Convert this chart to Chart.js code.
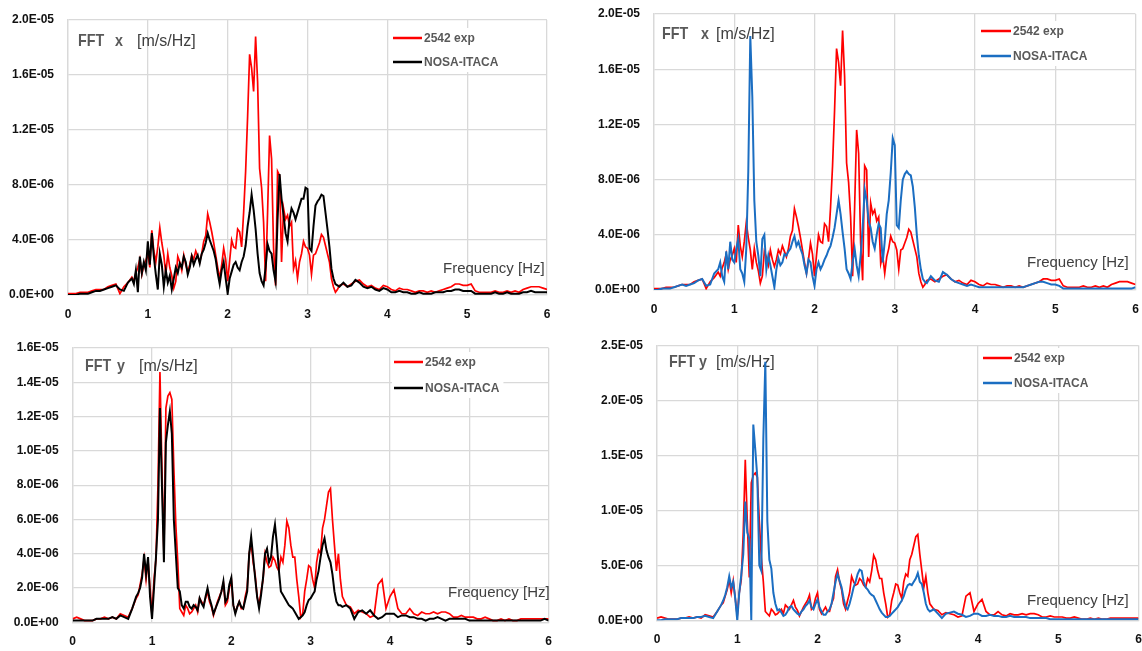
<!DOCTYPE html>
<html>
<head>
<meta charset="utf-8">
<script src="https://cdn.jsdelivr.net/npm/chart.js@4.4.1/dist/chart.umd.min.js"></script>
<style>
  html, body { margin: 0; padding: 0; background: #fff; }
  #wrap { position: relative; width: 1142px; height: 651px; }
  #wrap canvas { position: absolute; }
</style>
</head>
<body>
<div id="wrap">
  <canvas id="fftXBlack" width="571" height="325" style="left:0;top:0"></canvas>
  <canvas id="fftXBlue" width="571" height="325" style="left:571px;top:0"></canvas>
  <canvas id="fftYBlack" width="571" height="326" style="left:0;top:325px"></canvas>
  <canvas id="fftYBlue" width="571" height="326" style="left:571px;top:325px"></canvas>
</div>
<script>
// Frequency bins [Hz]: finer spacing across the resonance band
const FREQ = [
  0, 0.05, 0.1, 0.15, 0.2, 0.25, 0.3, 0.35, 0.4, 0.45, 0.5, 0.55, 0.6, 0.65, 0.7, 0.75,
  0.8, 0.825, 0.85, 0.875, 0.9, 0.925, 0.95, 0.975, 1, 1.025,
  1.05, 1.075, 1.1, 1.125, 1.15, 1.175, 1.2, 1.225, 1.25, 1.275,
  1.3, 1.325, 1.35, 1.375, 1.4, 1.425, 1.45, 1.475, 1.5, 1.525,
  1.55, 1.575, 1.6, 1.625, 1.65, 1.675, 1.7, 1.725, 1.75, 1.775,
  1.8, 1.825, 1.85, 1.875, 1.9, 1.925, 1.95, 1.975, 2, 2.025,
  2.05, 2.075, 2.1, 2.125, 2.15, 2.175, 2.2, 2.225, 2.25, 2.275,
  2.3, 2.325, 2.35, 2.375, 2.4, 2.425, 2.45, 2.475, 2.5, 2.525,
  2.55, 2.575, 2.6, 2.625, 2.65, 2.675, 2.7, 2.725, 2.75, 2.775,
  2.8, 2.825, 2.85, 2.875, 2.9, 2.925, 2.95, 2.975, 3, 3.025,
  3.05, 3.075, 3.1, 3.125, 3.15, 3.175, 3.2, 3.225, 3.25, 3.275,
  3.3, 3.325, 3.35, 3.375, 3.4,
  3.45,
  3.5, 3.55, 3.6, 3.65, 3.7, 3.75, 3.8, 3.85, 3.9, 3.95,
  4, 4.05, 4.1, 4.15, 4.2, 4.25, 4.3, 4.35, 4.4, 4.45,
  4.5, 4.55, 4.6, 4.65, 4.7, 4.75, 4.8, 4.85, 4.9, 4.95,
  5, 5.05, 5.1, 5.15, 5.2, 5.25, 5.3, 5.35, 5.4, 5.45,
  5.5, 5.55, 5.6, 5.65, 5.7, 5.75, 5.8, 5.85, 5.9, 5.95,
  6
];

// FFT amplitudes, in 1E-06 m/s/Hz
const EXP_X = [
  0.1, 0.1, 0.1, 0.2, 0.2, 0.2, 0.3, 0.4, 0.4, 0.4, 0.6, 0.7, 0.8, 0.1, 0.6, 0.9,
  1.3, 1.0, 1.6, 2.0, 2.6, 1.5, 2.2, 2.5, 3.0, 2.0,
  4.7, 3.2, 2.4, 3.5, 4.9, 3.8, 2.9, 1.5, 3.0, 2.0,
  1.4, 0.5, 1.0, 2.8, 2.4, 1.8, 2.9, 2.2, 1.7, 2.2,
  2.9, 2.6, 3.2, 2.8, 2.4, 3.0, 3.9, 4.3, 5.9, 5.3,
  4.6, 3.8, 2.9, 2.0, 1.2, 2.2, 3.4, 2.6, 1.0, 2.5,
  4.0, 3.5, 3.4, 4.8, 4.6, 3.5, 6.0, 9.0, 13.0, 17.5,
  16.5, 14.8, 18.8, 15.5, 9.2, 7.8, 5.3, 1.0, 6.0, 11.6,
  9.9, 3.4, 0.7, 9.0, 8.7, 2.4, 6.3, 5.5, 5.8, 5.0,
  5.3, 1.9, 2.5, 1.2, 2.4, 3.0, 3.9, 3.5, 3.4, 2.9,
  1.5, 2.9, 3.0, 3.4, 3.8, 4.4, 4.2, 3.6, 3.0, 2.4,
  1.2, 0.6, 0.2, 0.4, 0.7,
  0.8,
  0.6, 0.8, 1.0, 1.1, 0.8, 0.6, 0.7, 0.5, 0.4, 0.7,
  0.6, 0.4, 0.3, 0.5, 0.4, 0.4, 0.3, 0.2, 0.3, 0.3,
  0.2, 0.3, 0.2, 0.3, 0.4, 0.5, 0.6, 0.8, 0.8, 0.7,
  0.7, 0.8, 0.3, 0.2, 0.2, 0.2, 0.2, 0.3, 0.2, 0.2,
  0.3, 0.2, 0.3, 0.2, 0.4, 0.5, 0.6, 0.6, 0.6, 0.5,
  0.4
];
const NOSA_X_BLACK = [
  0.0, 0.0, 0.0, 0.1, 0.1, 0.1, 0.2, 0.3, 0.3, 0.4, 0.5, 0.6, 0.7, 0.4, 0.3, 0.9,
  1.2, 0.8, 1.8, 0.2, 2.8, 1.6, 2.4, 1.8, 3.9, 2.2,
  4.5, 2.8, 1.5, 0.4, 3.0, 2.2, 0.6, 1.8, 0.9, 1.4,
  0.4, 1.2, 2.0, 1.6, 2.3, 2.0, 2.8, 2.4, 1.5, 2.0,
  2.8, 2.2, 2.6, 2.9, 2.3, 3.0, 3.3, 3.8, 4.5, 4.0,
  3.6, 3.2, 2.6, 1.6, 0.8, 1.8, 2.4, 1.2, 0.1, 1.2,
  1.7, 2.2, 2.4, 2.0, 1.8, 2.4, 2.8, 3.6, 5.0, 6.0,
  7.3, 6.2, 4.8, 3.0, 1.6, 1.0, 0.7, 2.0, 3.7, 3.2,
  3.0, 1.8, 1.0, 5.5, 8.8, 7.0, 5.8, 4.5, 3.9, 5.5,
  6.3, 6.0, 5.5, 6.0, 6.5, 7.0, 7.0, 7.8, 7.7, 3.4,
  3.2, 5.0, 6.5, 6.8, 7.0, 7.3, 7.2, 6.0, 4.8, 3.5,
  1.9, 1.2, 0.8, 0.7, 0.6,
  0.9,
  0.6, 0.7, 1.1, 0.9, 0.6, 0.5, 0.6, 0.4, 0.3, 0.5,
  0.4, 0.2, 0.2, 0.3, 0.2, 0.2, 0.1, 0.1, 0.2, 0.1,
  0.1, 0.1, 0.2, 0.2, 0.2, 0.3, 0.3, 0.4, 0.4, 0.3,
  0.3, 0.3, 0.1, 0.1, 0.1, 0.1, 0.1, 0.2, 0.1, 0.1,
  0.2, 0.1, 0.1, 0.1, 0.2, 0.2, 0.3, 0.2, 0.2, 0.2,
  0.2
];
const NOSA_X_BLUE = [
  0.0, 0.0, 0.1, 0.1, 0.1, 0.2, 0.3, 0.4, 0.3, 0.4, 0.5, 0.7, 0.8, 0.3, 0.4, 1.2,
  1.5, 2.0, 1.0, 0.6, 2.8, 1.5, 3.5, 2.2, 2.0, 3.0,
  3.7, 1.5, 1.2, 0.6, 3.0, 8.6, 18.4, 14.0, 6.5, 3.5,
  2.5, 1.0, 3.7, 4.0, 1.5, 2.5, 1.8, 1.0, 0.2, 1.5,
  2.3, 1.8, 2.0, 2.6, 2.5, 2.8, 3.0, 3.5, 3.9, 3.2,
  3.5, 3.0, 2.6, 1.8, 1.2, 2.2, 2.0, 1.0, 0.3, 1.5,
  2.0, 1.5, 1.8, 2.2, 2.5, 2.9, 3.2, 3.8, 4.5, 5.5,
  6.5, 5.5, 4.2, 3.0, 1.5, 1.2, 0.8, 2.0, 3.0, 1.8,
  1.0, 2.5, 4.5, 7.3, 6.5, 5.0, 4.5, 3.5, 3.0, 4.0,
  4.8, 4.5, 2.0, 3.5, 5.5, 6.5, 8.5, 11.0, 10.5, 4.7,
  4.5, 6.5, 8.0, 8.4, 8.6, 8.4, 8.3, 7.5, 6.0, 4.0,
  2.5, 1.5, 0.8, 0.6, 0.5,
  1.0,
  0.7, 0.6, 1.3, 1.1, 0.8, 0.6, 0.5, 0.4, 0.3, 0.4,
  0.3, 0.2, 0.2, 0.2, 0.2, 0.2, 0.2, 0.2, 0.2, 0.2,
  0.2, 0.2, 0.2, 0.3, 0.4, 0.5, 0.6, 0.6, 0.5, 0.4,
  0.4, 0.3, 0.1, 0.1, 0.1, 0.1, 0.1, 0.1, 0.1, 0.1,
  0.1, 0.1, 0.1, 0.1, 0.1, 0.1, 0.1, 0.1, 0.1, 0.1,
  0.2
];
const EXP_Y = [
  0.2, 0.3, 0.2, 0.1, 0.1, 0.1, 0.2, 0.2, 0.3, 0.2, 0.3, 0.2, 0.5, 0.4, 0.3, 0.8,
  1.4, 1.6, 2.2, 2.8, 3.7, 2.5, 3.6, 2.0, 0.4, 2.5,
  3.7, 8.0, 14.6, 9.0, 3.9, 12.5, 13.2, 13.4, 13.0, 9.0,
  5.7, 3.5, 0.8, 0.6, 0.4, 1.0, 0.8, 0.5, 0.6, 0.8,
  1.0, 0.6, 1.4, 1.2, 1.0, 1.4, 1.8, 1.2, 0.9, 0.4,
  0.8, 1.2, 1.5, 1.8, 2.3, 1.0, 1.2, 2.0, 2.5, 1.0,
  0.6, 0.9, 1.2, 0.8, 0.8, 1.5, 2.0, 4.0, 4.6, 3.5,
  2.8, 1.5, 1.0, 1.8, 2.5, 4.0, 3.5, 3.2, 3.3, 3.8,
  3.6, 3.2, 3.0, 3.8, 3.5, 4.5, 5.9, 5.5, 4.5, 3.8,
  3.8, 2.5, 1.5, 0.3, 0.5, 1.8, 2.5, 3.3, 3.2, 2.5,
  2.0, 3.5, 4.2, 4.0, 5.5, 6.0, 6.8, 7.6, 7.8, 6.0,
  4.5, 3.0, 4.0, 2.5, 1.5,
  1.0,
  0.9, 0.5, 0.7, 0.6, 0.5, 0.3, 0.4, 2.2, 2.5, 0.8,
  1.5, 1.9, 0.8, 0.5, 0.5, 0.8, 0.5, 0.4, 0.6, 0.5,
  0.5, 0.6, 0.5, 0.6, 0.6, 0.5, 0.3, 0.3, 0.4, 0.3,
  0.3, 0.3, 0.2, 0.2, 0.3, 0.2, 0.1, 0.1, 0.2, 0.1,
  0.2, 0.1, 0.1, 0.2, 0.2, 0.2, 0.2, 0.2, 0.2, 0.2,
  0.2
];
const NOSA_Y_BLACK = [
  0.1, 0.1, 0.1, 0.1, 0.1, 0.1, 0.2, 0.2, 0.2, 0.2, 0.3, 0.2, 0.4, 0.3, 0.2, 0.8,
  1.5, 1.7, 2.0, 2.6, 4.0, 2.8, 3.8, 1.5, 0.2, 2.0,
  3.8, 6.0, 12.5, 8.0, 3.5, 10.5, 11.5, 12.3, 11.0, 6.0,
  4.0, 2.0, 1.8, 1.0, 0.8, 1.2, 1.2, 0.9, 0.8, 1.0,
  0.9, 0.7, 1.4, 1.1, 0.9, 1.5, 2.0, 1.4, 1.0, 0.5,
  0.8, 1.1, 1.4, 1.8, 2.4, 1.2, 1.4, 2.2, 2.6, 1.0,
  0.5, 0.9, 1.2, 0.9, 0.8, 1.3, 1.8, 4.0, 5.0, 3.8,
  2.6, 1.5, 0.8, 1.6, 2.6, 4.0, 4.3, 3.5, 3.8, 5.0,
  5.7, 4.5, 3.0, 1.8, 1.6, 1.4, 1.2, 1.0, 0.9, 0.8,
  0.6, 0.4, 0.2, 0.3, 0.4, 0.6, 1.0, 1.3, 1.4, 1.6,
  1.8, 2.5, 3.0, 3.8, 4.5, 4.9, 4.2, 3.8, 3.5, 2.8,
  1.8, 1.2, 1.0, 1.0, 0.9,
  1.0,
  0.8, 0.2, 0.6, 0.7, 0.5, 0.7, 0.4, 0.2, 0.3, 0.5,
  0.5, 0.5, 0.3, 0.4, 0.4, 0.3, 0.3, 0.2, 0.2, 0.1,
  0.2, 0.2, 0.3, 0.2, 0.1, 0.2, 0.2, 0.2, 0.2, 0.2,
  0.1, 0.1, 0.1, 0.1, 0.1, 0.1, 0.1, 0.1, 0.1, 0.1,
  0.1, 0.1, 0.1, 0.1, 0.1, 0.1, 0.1, 0.1, 0.1, 0.2,
  0.1
];
const NOSA_Y_BLUE = [
  0.0, 0.0, 0.1, 0.1, 0.1, 0.1, 0.2, 0.2, 0.2, 0.2, 0.3, 0.3, 0.4, 0.3, 0.2, 0.8,
  1.4, 1.8, 2.3, 3.0, 4.0, 3.0, 3.5, 2.0, 0.0, 2.5,
  4.1, 6.0, 10.8, 8.0, 7.4, 0.0, 17.8, 15.5, 13.0, 5.0,
  4.5, 16.5, 23.5, 9.0, 5.5, 4.7, 2.5, 1.5, 0.9, 1.0,
  0.7, 0.4, 0.5, 0.8, 1.2, 1.3, 1.0, 0.8, 0.6, 0.5,
  0.8, 1.0, 1.3, 1.5, 1.8, 1.2, 1.0, 1.5, 1.9, 1.2,
  0.8, 0.5, 0.5, 0.8, 1.0, 1.5, 2.5, 3.5, 4.2, 3.6,
  3.0, 2.0, 1.2, 1.0, 1.5, 2.2, 3.0, 3.5, 4.2, 4.6,
  4.5, 3.5, 3.0, 2.8, 2.5, 2.3, 2.2, 1.8, 1.4, 1.0,
  0.7, 0.5, 0.3, 0.3, 0.4, 0.6, 0.8, 1.0, 1.2, 1.5,
  1.8, 2.2, 2.8, 3.2, 3.3, 3.2, 3.5, 3.8, 4.3, 3.5,
  3.3, 2.5, 1.5, 1.0, 0.8,
  1.0,
  0.6, 0.2, 0.6, 0.7, 0.8, 0.6, 0.5, 0.3, 0.4, 0.6,
  0.6, 0.4, 0.4, 0.5, 0.4, 0.4, 0.3, 0.3, 0.4, 0.3,
  0.3, 0.3, 0.3, 0.2, 0.2, 0.2, 0.2, 0.2, 0.1, 0.1,
  0.1, 0.1, 0.1, 0.1, 0.1, 0.1, 0.1, 0.1, 0.1, 0.1,
  0.1, 0.1, 0.1, 0.1, 0.1, 0.1, 0.1, 0.1, 0.1, 0.1,
  0.1
];

const X_TICKS = [0, 1, 2, 3, 4, 5, 6];

const RED = '#ff0000';
const BLACK = '#000000';
const BLUE = '#1b6ec2';
const GRID = '#d9d9d9';
const SANS = '"Liberation Sans", Arial, sans-serif';
const TICK_FONT = { family: SANS, size: 12, weight: 'bold' };
const TITLE_FONT = 'bold 17px ' + SANS;
const TITLE_SQUEEZE = 0.84;   // narrow the bold title glyphs a little
const CAPTION_FONT = '15px ' + SANS;
const UNIT_FONT = '16px ' + SANS;
const LEGEND_FONT = 'bold 12px ' + SANS;

// 4.0E-06 style labels; values are stored in micro units
function fmtSci(v) {
  const [m, e] = (v * 1e-6).toExponential(1).split('e');
  const n = Number(e);
  return m + 'E' + (n < 0 ? '-' : '+') + String(Math.abs(n)).padStart(2, '0');
}

function toPoints(values) {
  return FREQ.map((f, i) => ({ x: f, y: values[i] }));
}

// Title and frequency caption sit under the curves; the legend box sits on top
const panelText = {
  id: 'panelText',
  beforeDatasetsDraw(chart, args, opts) {
    const ctx = chart.ctx;
    for (const t of opts.texts) {
      ctx.save();
      ctx.textBaseline = 'middle';
      ctx.textAlign = 'left';
      ctx.font = t.font;
      ctx.fillStyle = t.color;
      ctx.translate(t.x, t.y);
      ctx.scale(t.squeeze || 1, 1);
      ctx.fillText(t.text, 0, 0);
      ctx.restore();
    }
  },
  afterDraw(chart, args, opts) {
    const ctx = chart.ctx;
    const lg = opts.legend;
    const sets = chart.data.datasets;
    ctx.save();
    ctx.font = LEGEND_FONT;
    const textW = Math.max(...sets.map(ds => ctx.measureText(ds.label).width));
    ctx.fillStyle = '#fff';
    ctx.fillRect(lg.x - 2, lg.y - 10, lg.len + textW + 8, lg.gap * (sets.length - 1) + 20);
    ctx.textBaseline = 'middle';
    ctx.textAlign = 'left';
    sets.forEach((ds, i) => {
      const y = lg.y + i * lg.gap;
      ctx.strokeStyle = ds.borderColor;
      ctx.lineWidth = 2.5;
      ctx.beginPath();
      ctx.moveTo(lg.x, y);
      ctx.lineTo(lg.x + lg.len, y);
      ctx.stroke();
      ctx.fillStyle = '#595959';
      ctx.fillText(ds.label, lg.x + lg.len + 2, y + 1);
    });
    ctx.restore();
  }
};

function makePanel(id, cfg) {
  const canvas = document.getElementById(id);
  const W = canvas.width, H = canvas.height;
  const area = cfg.area;
  return new Chart(canvas, {
    type: 'line',
    data: {
      datasets: [
        { label: '2542 exp', data: toPoints(cfg.exp), borderColor: RED, borderWidth: 1.7, order: 2 },
        { label: 'NOSA-ITACA', data: toPoints(cfg.model), borderColor: cfg.modelColor, borderWidth: 2, order: 1 }
      ]
    },
    options: {
      responsive: false,
      animation: false,
      devicePixelRatio: 1,
      events: [],
      elements: { point: { radius: 0 }, line: { tension: 0, borderJoinStyle: 'miter' } },
      layout: { padding: { left: 0, top: area.top, right: W - area.right, bottom: 0 } },
      plugins: {
        legend: { display: false },
        tooltip: { enabled: false },
        panelText: {
          texts: [
            { text: 'FFT', x: cfg.title.x, y: cfg.title.y, font: TITLE_FONT, color: '#595959', squeeze: TITLE_SQUEEZE },
            { text: cfg.axis, x: cfg.title.axisX, y: cfg.title.y, font: TITLE_FONT, color: '#595959', squeeze: TITLE_SQUEEZE },
            { text: '[m/s/Hz]', x: cfg.title.unitX, y: cfg.title.y + 1, font: UNIT_FONT, color: '#404040' },
            { text: 'Frequency [Hz]', x: cfg.freqLabel.x, y: cfg.freqLabel.y, font: CAPTION_FONT, color: '#404040' }
          ],
          legend: cfg.legend
        }
      },
      scales: {
        x: {
          type: 'linear',
          min: 0,
          max: 6,
          afterBuildTicks: s => { s.ticks = X_TICKS.map(v => ({ value: v })); },
          afterFit: s => {
            s.height = H - area.bottom;
            s.paddingLeft = 0;
            s.paddingRight = 0;
          },
          ticks: { padding: 12, font: TICK_FONT, color: '#111', maxRotation: 0 },
          grid: { color: GRID, lineWidth: 1.3, drawTicks: false },
          border: { color: GRID, width: 1.3 }
        },
        y: {
          min: 0,
          max: cfg.yMax,
          // pin the plot area; the edge labels may overhang it
          afterFit: s => {
            s.width = area.left;
            s.paddingTop = 0;
            s.paddingBottom = 0;
          },
          ticks: { stepSize: cfg.yStep, padding: 14, font: TICK_FONT, color: '#111', callback: fmtSci },
          grid: { color: GRID, lineWidth: 1.3, drawTicks: false },
          border: { color: GRID, width: 1.3 }
        }
      }
    },
    plugins: [panelText]
  });
}

makePanel('fftXBlack', {
  exp: EXP_X, model: NOSA_X_BLACK, modelColor: BLACK, axis: 'x',
  yMax: 20, yStep: 4,
  area: { left: 68, top: 20, right: 547, bottom: 295 },
  title: { x: 78, axisX: 115, unitX: 137, y: 41 },
  freqLabel: { x: 443, y: 269 },
  legend: { x: 393, y: 38, gap: 24, len: 29 }
});

makePanel('fftXBlue', {
  exp: EXP_X, model: NOSA_X_BLUE, modelColor: BLUE, axis: 'x',
  yMax: 20, yStep: 4,
  area: { left: 83, top: 14, right: 564.5, bottom: 290 },
  title: { x: 91, axisX: 130, unitX: 145, y: 34 },
  freqLabel: { x: 456, y: 263 },
  legend: { x: 410, y: 31, gap: 25, len: 30 }
});

makePanel('fftYBlack', {
  exp: EXP_Y, model: NOSA_Y_BLACK, modelColor: BLACK, axis: 'y',
  yMax: 16, yStep: 2,
  area: { left: 72.7, top: 23, right: 548.6, bottom: 297.3 },
  title: { x: 85, axisX: 117, unitX: 139, y: 41 },
  freqLabel: { x: 448, y: 268 },
  legend: { x: 394, y: 37, gap: 26, len: 29 }
});

makePanel('fftYBlue', {
  exp: EXP_Y, model: NOSA_Y_BLUE, modelColor: BLUE, axis: 'y',
  yMax: 25, yStep: 5,
  area: { left: 86, top: 20.3, right: 567.5, bottom: 295.3 },
  title: { x: 98, axisX: 128, unitX: 145, y: 37 },
  freqLabel: { x: 456, y: 276 },
  legend: { x: 412, y: 33, gap: 25, len: 29 }
});
</script>
</body>
</html>
